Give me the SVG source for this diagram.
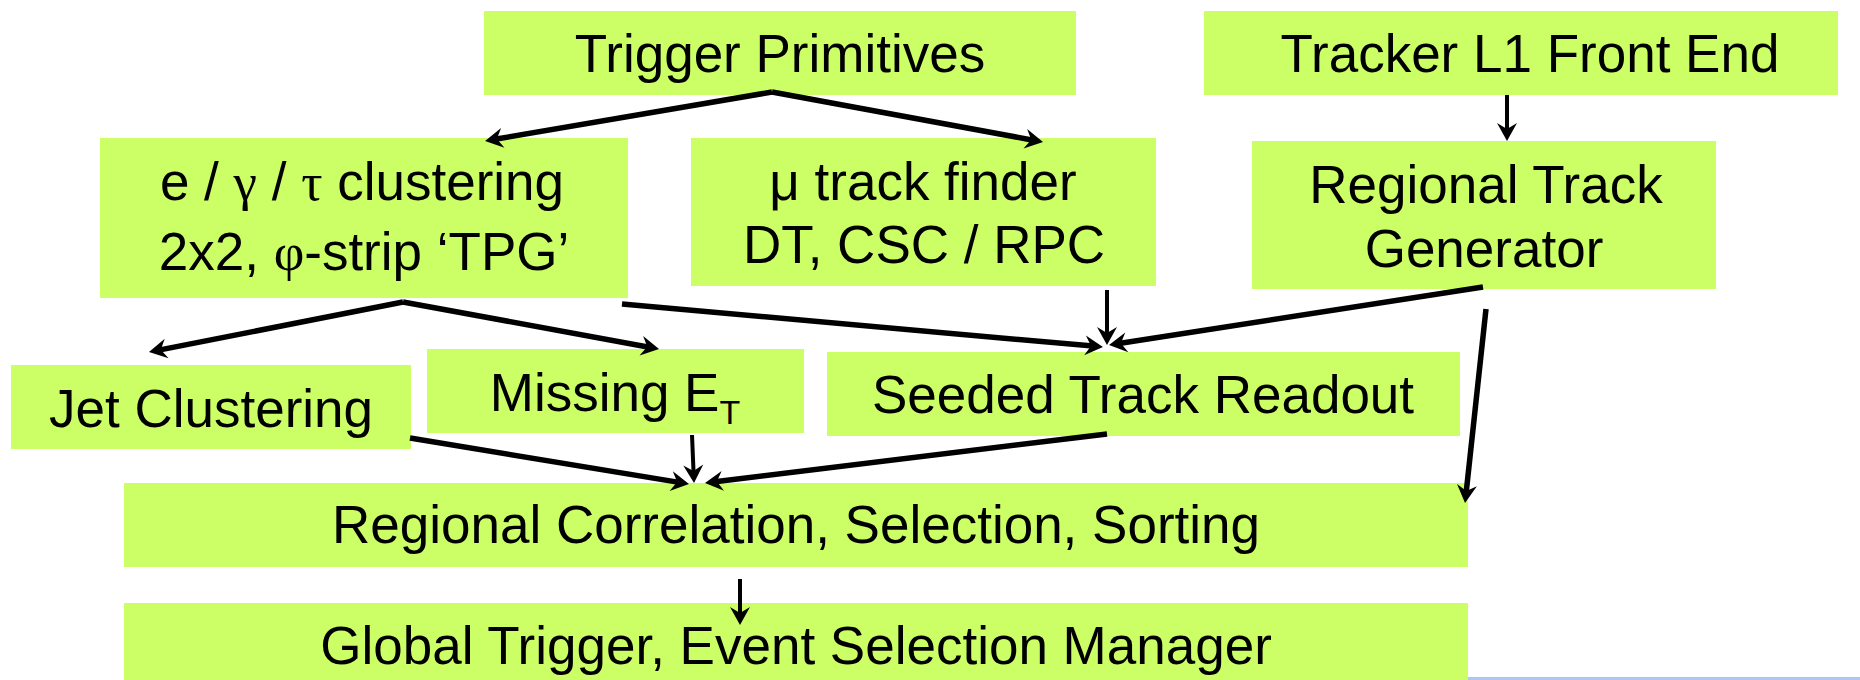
<svg xmlns="http://www.w3.org/2000/svg" width="1860" height="680" viewBox="0 0 1860 680">
<style>
.box{fill:#ccff66;}
.t{font-family:"Liberation Sans",Arial,sans-serif;font-size:53px;fill:#000;text-anchor:middle;}
.g{font-family:"Liberation Serif","Times New Roman",serif;}
.c{stroke:#000;stroke-width:5.5;fill:none;marker-end:url(#ah);}
.v{stroke:#000;stroke-width:4;fill:none;marker-end:url(#ah);}
</style>
<defs>
<marker id="ah" markerUnits="userSpaceOnUse" viewBox="-9 -11 21 22" markerWidth="21" markerHeight="22" refX="0" refY="0" orient="auto">
<path d="M10,0 L-8,-10 L-2,0 L-8,10 Z" fill="#000"/>
</marker>
</defs>
<rect width="1860" height="680" fill="#fff"/>

<g id="trigger-primitives">
<rect class="box" x="484" y="11" width="592" height="84"/>
<text class="t" x="780" y="72">Trigger Primitives</text>
</g>
<g id="tracker-l1">
<rect class="box" x="1204" y="11" width="634" height="84"/>
<text class="t" x="1530" y="72">Tracker L1 Front End</text>
</g>
<g id="egamma-clustering">
<rect class="box" x="100" y="138" width="528" height="160"/>
<text class="t" x="362" y="200">e / <tspan class="g">γ</tspan> / <tspan class="g">τ</tspan> clustering</text>
<text class="t" x="364" y="270">2x2, <tspan class="g">φ</tspan>-strip ‘TPG’</text>
</g>
<g id="mu-track-finder">
<rect class="box" x="691" y="138" width="465" height="148"/>
<text class="t" x="923" y="200">μ track finder</text>
<text class="t" x="924" y="263">DT, CSC / RPC</text>
</g>
<g id="regional-track-generator">
<rect class="box" x="1252" y="141" width="464" height="148"/>
<text class="t" x="1486" y="203">Regional Track</text>
<text class="t" x="1484" y="267">Generator</text>
</g>
<g id="jet-clustering">
<rect class="box" x="11" y="365" width="400" height="84"/>
<text class="t" x="211" y="427">Jet Clustering</text>
</g>
<g id="missing-et">
<rect class="box" x="427" y="349" width="377" height="84"/>
<text class="t" x="615" y="411">Missing E<tspan font-size="34" dy="13">T</tspan></text>
</g>
<g id="seeded-track-readout">
<rect class="box" x="827" y="352" width="633" height="84"/>
<text class="t" x="1143" y="413">Seeded Track Readout</text>
</g>
<g id="regional-correlation">
<rect class="box" x="124" y="483" width="1344" height="84"/>
<text class="t" x="796" y="543">Regional Correlation, Selection, Sorting</text>
</g>
<g id="global-trigger">
<rect class="box" x="124" y="603" width="1344" height="77"/>
<text class="t" x="796" y="664">Global Trigger, Event Selection Manager</text>
</g>

<g id="connectors">
<line class="c" x1="772" y1="92" x2="494.9" y2="139.3"/>
<line class="c" x1="772" y1="92" x2="1033.2" y2="140.2"/>
<line class="v" x1="1507" y1="95" x2="1507" y2="131"/>
<line class="c" x1="403" y1="302" x2="158.8" y2="350.1"/>
<line class="c" x1="403" y1="302" x2="649.2" y2="347.2"/>
<line class="c" x1="622" y1="304" x2="1093" y2="346.1"/>
<line class="v" x1="1107" y1="290" x2="1107" y2="335"/>
<line class="c" x1="1483" y1="287" x2="1118.9" y2="343.5"/>
<line class="c" x1="1486" y1="309" x2="1466.1" y2="493.1"/>
<line class="c" x1="410" y1="438" x2="679.1" y2="482.4"/>
<line class="v" x1="692" y1="435" x2="693.6" y2="473"/>
<line class="c" x1="1107" y1="434" x2="714.9" y2="481.8"/>
<line class="v" x1="740" y1="579" x2="740" y2="615"/>
</g>
<rect x="1468" y="677" width="392" height="3" fill="#adc6f2"/>
</svg>
